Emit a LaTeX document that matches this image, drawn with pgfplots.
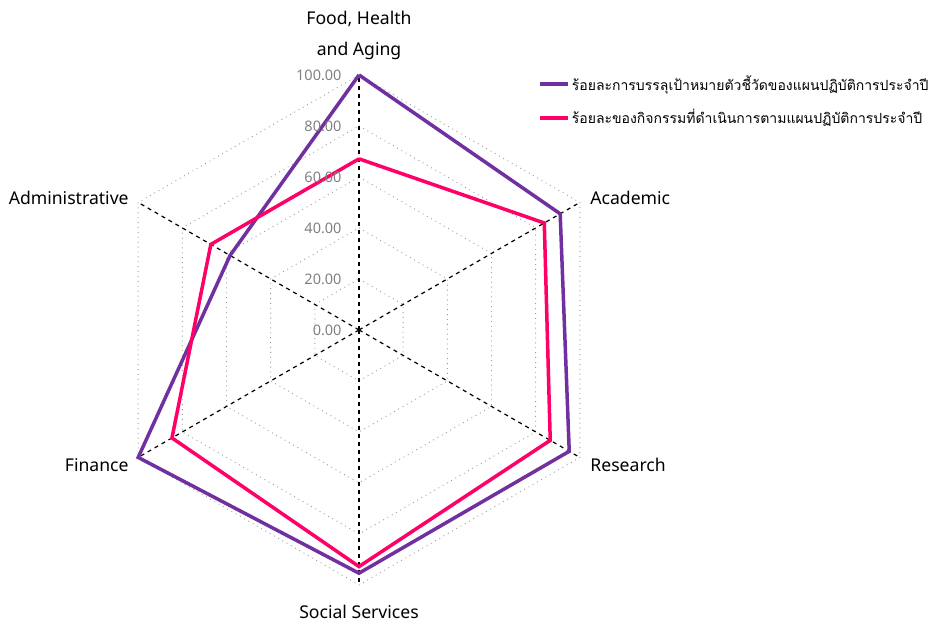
\documentclass[border=0pt]{standalone}
\usepackage{fontspec}
\setmainfont{Noto Sans}
\newfontfamily\thaifont[Script=Thai]{Loma}
\usepackage{pgfplots}
\pgfplotsset{compat=1.18}
\definecolor{tgt}{HTML}{7030A0}
\definecolor{act}{HTML}{FF0066}
\definecolor{tickgray}{HTML}{808080}
\begin{document}
\begin{tikzpicture}
\begin{axis}[
  x=1.275pt, y=1.275pt,
  xmin=-140.8, xmax=225.5, ymin=-114.5, ymax=129.4,
  hide axis, clip=false,
  legend style={at={(axis cs:70.2,100.8)}, anchor=north west, draw=none, fill=none,
    font=\thaifont\fontsize{7.0}{9}\selectfont, row sep=6pt, inner sep=0pt,
    nodes={inner sep=1pt}},
  legend cell align=left,
  legend image code/.code={\draw[#1] (0pt,0pt) -- (14pt,0pt);},
]
% grid hexagons
\pgfplotsinvokeforeach{20,40,60,80,100}{
  \addplot[forget plot, data cs=polar, tickgray!80, dotted, line width=0.45pt]
    coordinates {(90,#1)(30,#1)(-30,#1)(-90,#1)(-150,#1)(150,#1)(90,#1)};
}
% spokes
\pgfplotsinvokeforeach{90,30,-30,-90,-150,150}{
  \addplot[forget plot, data cs=polar, black, line width=0.6pt, dash pattern=on 2pt off 2pt]
    coordinates {(#1,0)(#1,100)};
}
% data
\addplot[data cs=polar, tgt, line width=1.75pt, line join=miter]
  coordinates {(90,100)(30,91.1)(-30,95.2)(-90,95.4)(-150,100)(150,58.4)(90,100)};
\addlegendentry{ร้อยละการบรรลุเป้าหมายตัวชี้วัดของแผนปฏิบัติการประจำปี}
\addplot[data cs=polar, act, line width=1.75pt, line join=miter]
  coordinates {(90,67.1)(30,83.9)(-30,86.6)(-90,92.8)(-150,84.7)(150,67.1)(90,67.1)};
\addlegendentry{ร้อยละของกิจกรรมที่ดำเนินการตามแผนปฏิบัติการประจำปี}
% tick labels
\begin{scope}[every node/.style={anchor=east, inner sep=0pt, text=tickgray, font=\fontsize{7.25}{8}\selectfont}]
\node at (axis cs:-6.7,0) {0.00};
\node at (axis cs:-6.7,20) {20.00};
\node at (axis cs:-6.7,40) {40.00};
\node at (axis cs:-6.7,60) {60.00};
\node at (axis cs:-6.7,80) {80.00};
\node at (axis cs:-6.7,100) {100.00};
\end{scope}
% category labels
\begin{scope}[every node/.style={font=\fontsize{8.8}{15.5}\selectfont, inner sep=0pt}]
\node[align=center] at (axis cs:0,115.7) {Food, Health\\and Aging};
\node[anchor=west] at (axis cs:90.6,51.8) {Academic};
\node[anchor=west] at (axis cs:90.6,-52.9) {Research};
\node at (axis cs:0,-110.6) {Social Services};
\node[anchor=east] at (axis cs:-90.2,-52.9) {Finance};
\node[anchor=east] at (axis cs:-90.2,51.8) {Administrative};
\end{scope}
\end{axis}
\pgfresetboundingbox
\path[use as bounding box] (current axis.south west) rectangle (current axis.north east);
\end{tikzpicture}
\end{document}
